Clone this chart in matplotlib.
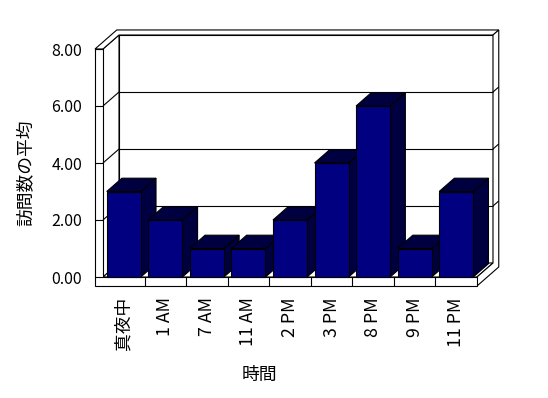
import matplotlib
matplotlib.use('Agg')
import matplotlib.pyplot as plt
from matplotlib.patches import Polygon

plt.rcParams['font.family'] = ['Noto Sans CJK JP', 'DejaVu Sans']

# data
categories = ['真夜中', '1 AM', '7 AM', '11 AM', '2 PM', '3 PM', '8 PM', '9 PM', '11 PM']
visits_avg = [3, 2, 1, 1, 2, 4, 6, 1, 3]
y_ticks = [0, 2, 4, 6, 8]
x_title = '時間'
y_title = '訪問数の平均'

FRONT = '#000080'
SHADE = '#000040'

W, H = 548, 398
fig = plt.figure(figsize=(W / 100, H / 100), dpi=100)
# axes = front plane of the 3d box
ax = fig.add_axes([103 / W, (H - 277) / H, 374 / W, 228 / H])
n = len(categories)
ax.set_xlim(0, n)
ax.set_ylim(0, 8)

# oblique depth vector (one full depth unit) in data units
DX = 16 / 374 * n
DY = 14 / 228 * 8
WALL = 8 / 374 * n      # left wall thickness
FLOOR = 9 / 228 * 8     # floor thickness
BACK = 1.36             # depth of back face of back wall
LW = 0.8


def P(x, y, d):
    return (x + d * DX, y + d * DY)


def face(pts, fc='white', z=1):
    ax.add_patch(Polygon([P(*p) for p in pts], closed=True, facecolor=fc,
                         edgecolor='black', linewidth=LW, clip_on=False,
                         zorder=z, joinstyle='miter'))


def line(p0, p1, z=2):
    a, b = P(*p0), P(*p1)
    ax.plot([a[0], b[0]], [a[1], b[1]], color='black', lw=LW,
            clip_on=False, zorder=z, solid_capstyle='butt')


# walls and floor
face([(0, 0, 1), (n, 0, 1), (n, 8, 1), (0, 8, 1)])
face([(0, 0, 0), (0, 0, 1), (0, 8, 1), (0, 8, 0)])
face([(0, 0, 0), (n, 0, 0), (n, 0, 1), (0, 0, 1)])
face([(-WALL, 8, 0), (0, 8, 0), (0, 8, 1), (n, 8, 1), (n, 8, BACK), (-WALL, 8, BACK)])
face([(n, -FLOOR, 0), (n, -FLOOR, BACK), (n, 8, BACK), (n, 8, 1), (n, 0, 1), (n, 0, 0)])
face([(-WALL, -FLOOR, 0), (n, -FLOOR, 0), (n, 0, 0), (0, 0, 0), (0, 8, 0), (-WALL, 8, 0)])

# gridlines
for v in y_ticks[1:-1]:
    line((0, v, 0), (0, v, 1))
    line((0, v, 1), (n, v, 1))
    line((n, v, 1), (n, v, BACK))

# bars, left to right
for i, v in enumerate(visits_avg):
    x0, x1 = i + 0.09, i + 0.91
    d0, d1 = 0.0, 0.95
    z = 10 + i
    face([(x1, 0, d0), (x1, 0, d1), (x1, v, d1), (x1, v, d0)], SHADE, z)
    face([(x0, v, d0), (x1, v, d0), (x1, v, d1), (x0, v, d1)], SHADE, z)
    face([(x0, 0, d0), (x1, 0, d0), (x1, v, d0), (x0, v, d0)], FRONT, z)

for s in ax.spines.values():
    s.set_visible(False)
ax.patch.set_visible(False)

ax.set_yticks(y_ticks)
ax.set_yticklabels(['%.2f' % t for t in y_ticks])
ax.tick_params(axis='y', direction='out', length=5.76, width=LW,
               pad=9.4, labelsize=11.5)

ax.set_xticks(range(1, n))
ax.set_xticklabels([])
ax.set_xticks([i + 0.5 for i in range(n)], minor=True)
ax.set_xticklabels(categories, minor=True, rotation=90)
ax.tick_params(axis='x', which='major', direction='out', length=6.48, width=LW)
ax.tick_params(axis='x', which='minor', length=0, pad=14.5, labelsize=12.8)

fig.text(26 / W, 1 - 173 / H, y_title, rotation=90, ha='center', va='center', fontsize=12.8)
fig.text(259 / W, 1 - 375 / H, x_title, ha='center', va='center', fontsize=12.8)

fig.savefig('out.png', dpi=100)
